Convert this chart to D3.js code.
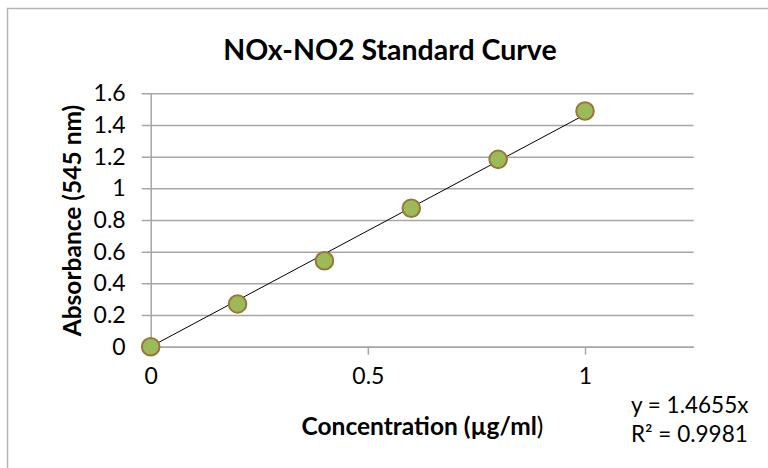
<!DOCTYPE html>
<html>
<head>
<meta charset="utf-8">
<script src="https://cdn.jsdelivr.net/npm/d3@7"></script>
<style>
  body { margin: 0; background: #fff; }
  text { font-family: Lato, "Open Sans", sans-serif; fill: #000; }
</style>
</head>
<body>
<svg id="chart" width="768" height="468"></svg>
<script>
// data
var concentration = [0, 0.2, 0.4, 0.6, 0.8, 1.0];
var absorbance = [0, 0.27, 0.543, 0.874, 1.183, 1.488];
var slope = 1.4655;
var trendRange = [0, 1];
var yTicks = [0, 0.2, 0.4, 0.6, 0.8, 1, 1.2, 1.4, 1.6];
var xTicks = [0, 0.5, 1];
var titleText = 'NOx-NO2 Standard Curve';
var yTitle = 'Absorbance (545 nm)';
var eqLines = ['y = 1.4655x', 'R\u00b2 = 0.9981'];

var svg = d3.select('#chart');

// outer frame (only left and top visible in the crop)
svg.append('rect')
    .attr('x', 7.5).attr('y', 8.5)
    .attr('width', 800).attr('height', 500)
    .attr('fill', 'none')
    .attr('stroke', '#b4b4b4')
    .attr('stroke-width', 1.5);

var x = d3.scaleLinear().domain([0, 1.25]).range([150.7, 693.6]);
var y = d3.scaleLinear().domain([0, 1.6]).range([346.7, 93.3]);

// horizontal gridlines + y axis
var yAxis = d3.axisLeft(y)
    .tickValues(yTicks)
    .tickSize(-(693.6 - 150.7))
    .tickSizeOuter(0)
    .tickFormat(d3.format('~g'));

var gy = svg.append('g')
    .attr('transform', 'translate(150.7,0)')
    .call(yAxis);
gy.select('.domain').attr('stroke', '#a6a6a6').attr('stroke-width', 1.5);
gy.selectAll('.tick line')
    .attr('x1', -9)
    .attr('stroke', '#a6a6a6')
    .attr('stroke-width', 1.5);
gy.selectAll('.tick text')
    .attr('font-size', 23)
    .attr('font-family', 'Lato, sans-serif')
    .attr('x', -25);

// x axis
var xAxis = d3.axisBottom(x)
    .tickValues(xTicks)
    .tickSize(8)
    .tickSizeOuter(0)
    .tickPadding(13)
    .tickFormat(d3.format('~g'));
var gx = svg.append('g')
    .attr('transform', 'translate(0,346.7)')
    .call(xAxis);
gx.select('.domain').attr('stroke', '#a6a6a6').attr('stroke-width', 1.5);
gx.selectAll('.tick line').attr('stroke', '#a6a6a6').attr('stroke-width', 1.5);
gx.selectAll('.tick text')
    .attr('font-size', 23)
    .attr('font-family', 'Lato, sans-serif');

// trendline (forced through zero)
svg.append('line')
    .attr('x1', x(trendRange[0])).attr('y1', y(slope * trendRange[0]))
    .attr('x2', x(trendRange[1])).attr('y2', y(slope * trendRange[1]))
    .attr('stroke', '#000')
    .attr('stroke-width', 1);

// markers
svg.append('g').selectAll('circle')
    .data(concentration)
    .join('circle')
    .attr('cx', function(d){ return x(d); })
    .attr('cy', function(d, i){ return y(absorbance[i]); })
    .attr('r', 8.8)
    .attr('fill', '#9bbb59')
    .attr('stroke', '#9a763a')
    .attr('stroke-width', 2);

// title
svg.append('text')
    .attr('x', 390).attr('y', 60)
    .attr('text-anchor', 'middle')
    .attr('font-size', 28.5)
    .attr('font-weight', 'bold')
    .text(titleText);

// y title
svg.append('text')
    .attr('transform', 'translate(81,220.5) rotate(-90)')
    .attr('text-anchor', 'middle')
    .attr('font-size', 24.5)
    .attr('font-weight', 'bold')
    .text(yTitle);

// x title, closing paren is not bold in the original
var xt = svg.append('text')
    .attr('x', 422.5).attr('y', 435)
    .attr('text-anchor', 'middle')
    .attr('font-size', 24.5)
    .attr('font-weight', 'bold');
xt.append('tspan').text('Concentration (\u00b5g/ml');
xt.append('tspan').attr('font-weight', 'normal').text(')');

// equation
svg.append('g').selectAll('text')
    .data(eqLines)
    .join('text')
    .attr('x', 631)
    .attr('y', function(d, i){ return 413 + i * 29; })
    .attr('font-size', 22.5)
    .text(function(d){ return d; });
</script>
</body>
</html>
